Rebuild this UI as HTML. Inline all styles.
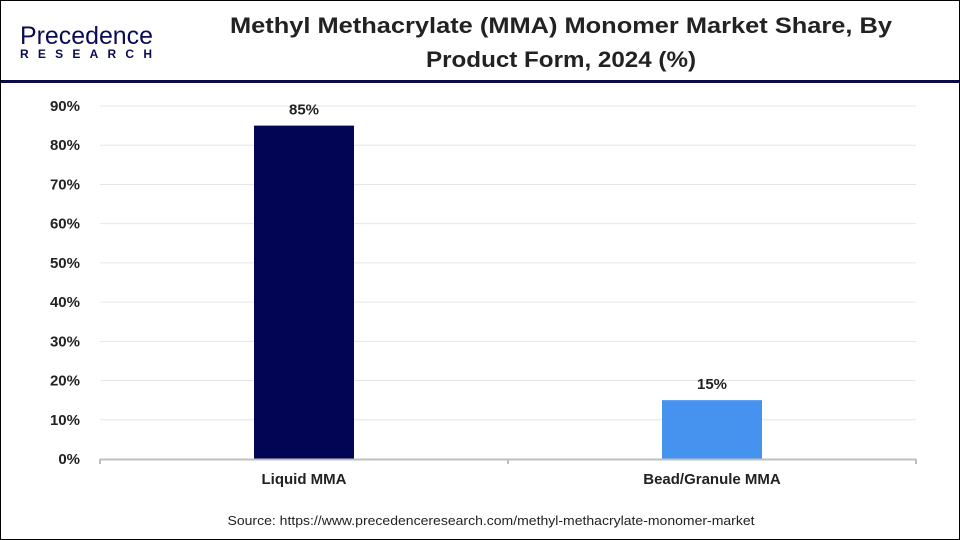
<!DOCTYPE html>
<html><head><meta charset="utf-8"><style>
body{margin:0;width:960px;height:540px;overflow:hidden;background:#fff;font-family:"Liberation Sans",Arial,sans-serif}
#frame{position:absolute;left:0;top:0;width:958px;height:538px;border:1px solid #000}
</style></head><body>
<div id="frame"></div>
<svg width="960" height="540" style="position:absolute;left:0;top:0">
  <g>
    <text x="20" y="44" font-size="25" fill="#0b0b55" textLength="133" lengthAdjust="spacingAndGlyphs">Precedence</text>
    <text x="20" y="58" font-size="12" font-weight="bold" fill="#0b0b55" textLength="132">RESEARCH</text>
  </g>
  <text x="561" y="33" text-anchor="middle" font-size="22" font-weight="bold" fill="#222" textLength="662" lengthAdjust="spacingAndGlyphs">Methyl Methacrylate (MMA) Monomer Market Share, By</text>
  <text x="561" y="67" text-anchor="middle" font-size="22" font-weight="bold" fill="#222" textLength="270" lengthAdjust="spacingAndGlyphs">Product Form, 2024 (%)</text>
  <rect x="1" y="80" width="958" height="3" fill="#0b0b4a"/>
  <g id="grid"></g><g id="yt"></g><g id="bars"></g><g id="xt"></g>
  <text x="491" y="525" text-anchor="middle" font-size="13" fill="#222" textLength="527" lengthAdjust="spacingAndGlyphs">Source: https://www.precedenceresearch.com/methyl-methacrylate-monomer-market</text>
</svg>
<script>
const categories=["Liquid MMA","Bead/Granule MMA"];
const values=[85,15];
const valueLabels=["85%","15%"];
const yTicks=[0,10,20,30,40,50,60,70,80,90];
const colors=["#020553","#4593ef"];
const NS="http://www.w3.org/2000/svg";
const x0=100,x1=916,yBase=459,yPer=(459-106)/90;
const y=v=>yBase-v*yPer;
const band=(x1-x0)/categories.length;
function mk(t,a,p){const e=document.createElementNS(NS,t);for(const k in a)e.setAttribute(k,a[k]);p.appendChild(e);return e;}
const g=document.getElementById('grid'),yt=document.getElementById('yt'),b=document.getElementById('bars'),xt=document.getElementById('xt');
yTicks.forEach(v=>{
  if(v>0){const l=mk('line',{x1:x0,x2:x1,y1:y(v),y2:y(v),stroke:'#e6e6e6','stroke-width':1},g);
  
  }
  const t=mk('text',{x:80,y:y(v)+5,'text-anchor':'end','font-size':15,'font-weight':'bold',fill:'#222'},yt);
  t.textContent=v+'%';
  
  
});
const ax=mk('line',{x1:x0,x2:x1,y1:yBase+0.5,y2:yBase+0.5,stroke:'#bfbfbf','stroke-width':2},xt);


for(let i=0;i<=categories.length;i++){const tk=mk('line',{x1:x0+i*band,x2:x0+i*band,y1:yBase,y2:yBase+5,stroke:'#bfbfbf','stroke-width':2},xt);

}
categories.forEach((c,i)=>{
  const cx=x0+band*(i+0.5);
  const r=mk('rect',{x:cx-50,y:y(values[i]),width:100,height:yBase-y(values[i]),fill:colors[i]},b);
  
  
  const vl=mk('text',{x:cx,y:y(values[i])-11,'text-anchor':'middle','font-size':15,'font-weight':'bold',fill:'#222'},b);
  vl.textContent=valueLabels[i];
  
  
  const xl=mk('text',{x:cx,y:484,'text-anchor':'middle','font-size':15,'font-weight':'bold',fill:'#222'},xt);
  xl.textContent=c;
  
  
});
</script>
</body></html>
